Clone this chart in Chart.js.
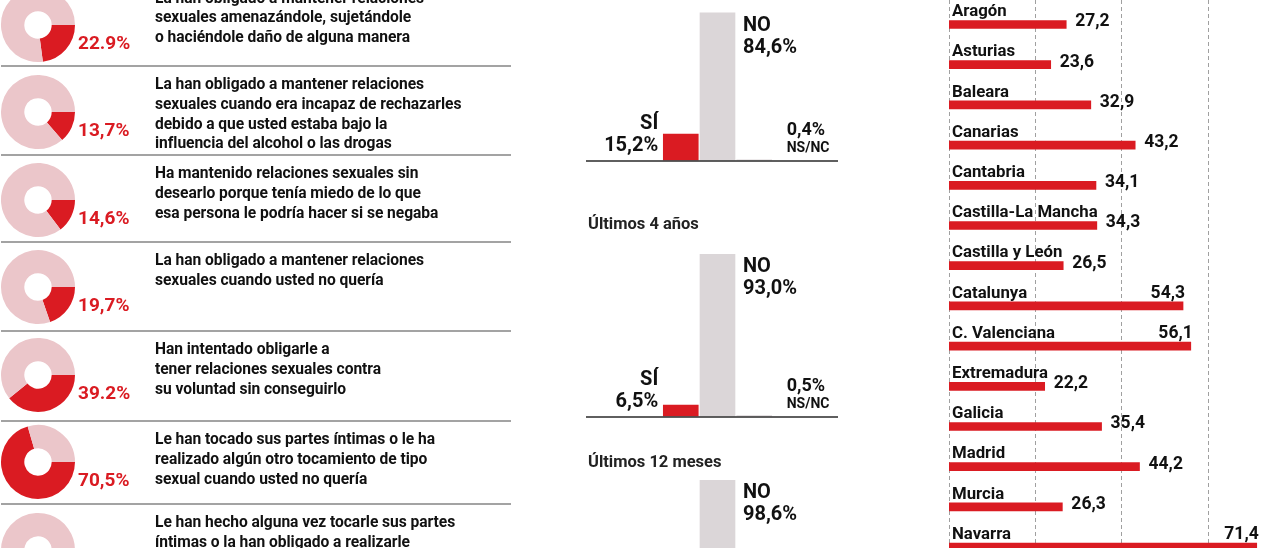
<!DOCTYPE html>
<html>
<head>
<meta charset="utf-8">
<script src="https://cdn.jsdelivr.net/npm/chart.js@4.4.1/dist/chart.umd.min.js"></script>
<style>
  html, body { margin: 0; padding: 0; background: #fff; }
  #root { position: relative; width: 1280px; height: 548px; overflow: hidden; background: #fff;
          font-family: Roboto, 'Liberation Sans', Arial, sans-serif; }
  .txt { position: absolute; font-weight: 700; color: #111; white-space: nowrap; }
  .desc { font-size: 15.6px; line-height: 19.8px; letter-spacing: -0.05px; }
  .title { font-size: 16.5px; line-height: 20px; color: #222; }
  .sep { position: absolute; left: 1px; width: 510px; height: 2px; background: #a3a3a3; }
</style>
</head>
<body>
<div id="root"></div>
<script>
// ---------------- DATA ----------------
const donutValues = [22.9, 13.7, 14.6, 19.7, 39.2, 70.5, 10.8];
const donutLabels = ['22.9%', '13,7%', '14,6%', '19,7%', '39.2%', '70,5%', '10,8%'];
const donutTexts = [
  ['La han obligado a mantener relaciones', 'sexuales amenazándole, sujetándole', 'o haciéndole daño de alguna manera'],
  ['La han obligado a mantener relaciones', 'sexuales cuando era incapaz de rechazarles', 'debido a que usted estaba bajo la', 'influencia del alcohol o las drogas'],
  ['Ha mantenido relaciones sexuales sin', 'desearlo porque tenía miedo de lo que', 'esa persona le podría hacer si se negaba'],
  ['La han obligado a mantener relaciones', 'sexuales cuando usted no quería'],
  ['Han intentado obligarle a', 'tener relaciones sexuales contra', 'su voluntad sin conseguirlo'],
  ['Le han tocado sus partes íntimas o le ha', 'realizado algún otro tocamiento de tipo', 'sexual cuando usted no quería'],
  ['Le han hecho alguna vez tocarle sus partes', 'íntimas o la han obligado a realizarle']
];

const barCategories = ['SÍ', 'NO', 'NS/NC'];
const periodTitles = ['', 'Últimos 4 años', 'Últimos 12 meses'];
const periodSi = [15.2, 6.5, 1.0];
const periodNo = [84.6, 93.0, 98.6];
const periodNsnc = [0.4, 0.5, 0.4];

const regions = ['Aragón', 'Asturias', 'Baleara', 'Canarias', 'Cantabria', 'Castilla-La Mancha',
  'Castilla y León', 'Catalunya', 'C. Valenciana', 'Extremadura', 'Galicia', 'Madrid', 'Murcia', 'Navarra'];
const regionValues = [27.2, 23.6, 32.9, 43.2, 34.1, 34.3, 26.5, 54.3, 56.1, 22.2, 35.4, 44.2, 26.3, 71.4];
const regionGridTicks = [0, 20, 40, 60, 80];

// ---------------- STYLE / LAYOUT ----------------
const FONT = "Roboto, 'Liberation Sans', Arial, sans-serif";
const RED = '#da1b22', PINK = '#ebc6ca', GRAY = '#dbd6d8', INK = '#111111';
const donutCenters = [25, 112, 200, 287, 375, 462, 550];
const rowTops = [-20.5, 66, 155, 242, 331, 421, 504];

Chart.defaults.font.family = FONT;
Chart.defaults.animation = false;
Chart.defaults.events = [];
Chart.defaults.plugins.legend.display = false;
Chart.defaults.plugins.tooltip.enabled = false;

const root = document.getElementById('root');
function addCanvas(left, top, w, h) {
  const c = document.createElement('canvas');
  c.width = w; c.height = h;
  c.style.cssText = `position:absolute;left:${left}px;top:${top}px;width:${w}px;height:${h}px`;
  root.appendChild(c);
  return c;
}
function addDiv(cls, left, top, html) {
  const d = document.createElement('div');
  d.className = cls;
  d.style.left = left + 'px';
  d.style.top = top + 'px';
  d.innerHTML = html;
  root.appendChild(d);
  return d;
}
const fmt = v => v.toFixed(1).replace('.', ',');

// ---------------- LEFT: DONUTS ----------------
donutValues.forEach((v, i) => {
  const cy = donutCenters[i];
  const cv = addCanvas(0, cy - 40, 160, 80);
  const label = donutLabels[i];
  new Chart(cv, {
    type: 'doughnut',
    data: {
      labels: ['Sí', 'No'],
      datasets: [{ data: [v, 100 - v], backgroundColor: [RED, PINK], borderWidth: 0, hoverOffset: 0 }]
    },
    options: {
      responsive: false,
      rotation: 90,
      cutout: '37%',
      layout: { padding: { left: 1, right: 85, top: 3, bottom: 3 } }
    },
    plugins: [{
      id: 'pct',
      afterDraw(chart) {
        const ctx = chart.ctx;
        ctx.save();
        ctx.font = `700 19px ${FONT}`;
        ctx.fillStyle = RED;
        ctx.textAlign = 'left';
        ctx.textBaseline = 'middle';
        ctx.fillText(label, 78, 59);
        ctx.restore();
      }
    }]
  });
  addDiv('txt desc', 155, rowTops[i] + 19 - 9.9, donutTexts[i].join('<br>'));
  if (i > 0) addDiv('sep', 1, rowTops[i] - 1, '');
});

// ---------------- MIDDLE: BAR PANELS ----------------
const panelBaselines = [160, 416.7, 652];
const PX_PER_100 = 174.5;
function makePanelPlugin(p) {
  return {
    id: 'panel' + p,
    afterDatasetsDraw(chart) {
      const ctx = chart.ctx;
      const meta = chart.getDatasetMeta(0);
      const base = chart.scales.y.getPixelForValue(0);
      const si = meta.data[0], no = meta.data[1], ns = meta.data[2];
      ctx.save();
      ctx.strokeStyle = '#2a2a2a';
      ctx.lineWidth = 1.5;
      ctx.beginPath();
      ctx.moveTo(16, base + 0.5);
      ctx.lineTo(268, base + 0.5);
      ctx.stroke();
      ctx.fillStyle = INK;
      ctx.textBaseline = 'middle';
      ctx.font = `700 20px ${FONT}`;
      ctx.textAlign = 'right';
      const siLeft = si.x - si.width / 2;
      ctx.fillText(barCategories[0], siLeft - 5, base - 37);
      ctx.fillText(fmt(periodSi[p]) + '%', siLeft - 5, base - 15);
      ctx.textAlign = 'left';
      const noRight = no.x + no.width / 2;
      ctx.fillText(barCategories[1], noRight + 8, no.y + 13);
      ctx.fillText(fmt(periodNo[p]) + '%', noRight + 8, no.y + 35);
      const nsRight = ns.x + ns.width / 2;
      ctx.font = `700 18px ${FONT}`;
      ctx.fillText(fmt(periodNsnc[p]) + '%', nsRight + 15, base - 30);
      ctx.font = `700 14px ${FONT}`;
      ctx.fillText(barCategories[2], nsRight + 15, base - 12);
      ctx.restore();
    }
  };
}
panelBaselines.forEach((b, p) => {
  const H = 200, padTop = 10, padBottom = H - padTop - PX_PER_100;
  const cv = addCanvas(570, Math.round((b - padTop - PX_PER_100) * 10) / 10, 300, H);
  new Chart(cv, {
    type: 'bar',
    data: {
      labels: barCategories,
      datasets: [{
        data: [periodSi[p], periodNo[p], periodNsnc[p]],
        backgroundColor: [RED, GRAY, GRAY],
        borderWidth: 0,
        barThickness: 35
      }]
    },
    options: {
      responsive: false,
      layout: { padding: { left: 92.4, right: 97.4, top: padTop, bottom: padBottom } },
      scales: {
        x: { display: false },
        y: { display: false, min: 0, max: 100 }
      }
    },
    plugins: [makePanelPlugin(p)]
  });
  if (periodTitles[p]) {
    const titleY = p === 1 ? 223.5 : 462;
    addDiv('txt title', 588, titleY - 10, periodTitles[p]);
  }
});

// ---------------- RIGHT: REGIONS ----------------
(function () {
  const W = 400, H = 572;
  const cv = addCanvas(900, 0, W, H);
  const gridPlugin = {
    id: 'dashGrid',
    beforeDatasetsDraw(chart) {
      const ctx = chart.ctx, xs = chart.scales.x;
      ctx.save();
      ctx.strokeStyle = '#a0a0a0';
      ctx.lineWidth = 1;
      ctx.setLineDash([4, 3]);
      regionGridTicks.forEach(t => {
        const x = Math.round(xs.getPixelForValue(t)) + 0.5;
        ctx.beginPath();
        ctx.moveTo(x, 0);
        ctx.lineTo(x, H);
        ctx.stroke();
      });
      ctx.restore();
    }
  };
  const labelPlugin = {
    id: 'regionLabels',
    afterDatasetsDraw(chart) {
      const ctx = chart.ctx;
      const meta = chart.getDatasetMeta(0);
      ctx.save();
      ctx.fillStyle = INK;
      ctx.textBaseline = 'middle';
      meta.data.forEach((bar, i) => {
        ctx.font = `700 16.8px ${FONT}`;
        ctx.textAlign = 'left';
        ctx.fillText(regions[i], bar.base + 3, bar.y - 12.5);
        const v = regionValues[i];
        ctx.font = `700 17.5px ${FONT}`;
        if (v > 50) {
          ctx.textAlign = 'right';
          ctx.fillText(fmt(v), bar.x + 2, bar.y - 12.5);
        } else {
          ctx.textAlign = 'left';
          ctx.fillText(fmt(v), bar.x + 9, bar.y - 2.5);
        }
      });
      ctx.restore();
    }
  };
  new Chart(cv, {
    type: 'bar',
    data: {
      labels: regions,
      datasets: [{ data: regionValues, backgroundColor: RED, borderWidth: 0, barThickness: 8 }]
    },
    options: {
      indexAxis: 'y',
      responsive: false,
      layout: { padding: { left: 49, right: W - (1293.8 - 900), top: 4.4, bottom: H - 4.4 - 562.8 } },
      scales: {
        x: { display: false, min: 0, max: 80 },
        y: { display: false }
      }
    },
    plugins: [gridPlugin, labelPlugin]
  });
})();
</script>
</body>
</html>
